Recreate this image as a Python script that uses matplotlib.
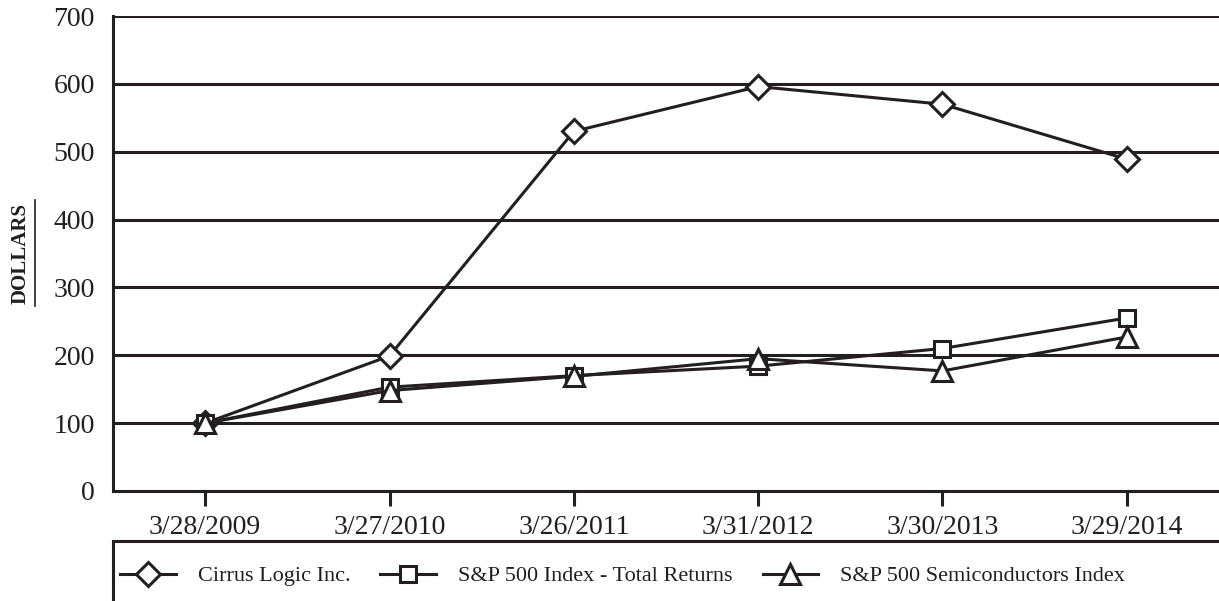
import matplotlib.pyplot as plt
from matplotlib.lines import Line2D
from matplotlib.patches import Rectangle

plt.rcParams['font.family'] = ['Liberation Serif', 'DejaVu Serif']

dates = ['3/28/2009', '3/27/2010', '3/26/2011', '3/31/2012', '3/30/2013', '3/29/2014']
cirrus = [100, 199, 530, 596, 570, 489]
sp500 = [100, 153, 170, 184, 210, 255]
semis = [100, 148, 169, 195, 177, 227]

series = [
    ('Cirrus Logic Inc.', cirrus, 'D', 12),
    ('S&P 500 Index - Total Returns', sp500, 's', 12),
    ('S&P 500 Semiconductors Index', semis, '^', 15),
]

fig = plt.figure(figsize=(12.19, 6.01), dpi=100)
ax = fig.add_axes([113 / 1219, 1 - 491 / 601, 1 - 113 / 1219, (491 - 16) / 601])

x = list(range(len(dates)))
handles = []
for label, vals, mk, ms in series:
    h, = ax.plot(x, vals, color='#231f20', lw=2.2, marker=mk, ms=ms,
                 mfc='white', mec='#231f20', mew=2.2, label=label, zorder=3)
    handles.append(h)

ax.set_xlim(-0.5, 5.5)
ax.set_ylim(0, 700)
ax.set_yticks(range(0, 701, 100))
ax.set_xticks(x)
ax.set_xticklabels(dates)
ax.grid(axis='y', color='#231f20', lw=2.2)
ax.set_axisbelow(True)
for s in ['top', 'right']:
    ax.spines[s].set_visible(False)
for s in ['left', 'bottom']:
    ax.spines[s].set_linewidth(2.2)
    ax.spines[s].set_color('#231f20')
ax.tick_params(axis='y', length=0, pad=13, labelsize=20, labelcolor='#231f20')
ax.tick_params(axis='x', length=11, width=2.2, color='#231f20', pad=6,
               labelsize=20, labelcolor='#231f20')

# y label with underline
fig.text(21 / 1219, 1 - 253 / 601, 'DOLLARS', rotation=90, fontsize=15,
         fontweight='bold', ha='center', va='center', color='#231f20')
fig.add_artist(Line2D([35 / 1219, 35 / 1219], [1 - 200 / 601, 1 - 306 / 601],
                      color='#231f20', lw=1.2, transform=fig.transFigure))

# legend box (right and bottom edges fall outside the figure)
fig.add_artist(Rectangle((113 / 1219, -0.05), 1.0, 0.05 + (601 - 541) / 601,
                         transform=fig.transFigure, fill=False,
                         ec='#231f20', lw=2.2))
fig.legend(handles=handles, loc='center left', ncol=3, frameon=False,
           bbox_to_anchor=(120 / 1219, 1 - 576 / 601), fontsize=16,
           handlelength=2.5, handletextpad=1.0, columnspacing=1.35,
           borderpad=0, borderaxespad=0, labelcolor='#231f20')

fig.savefig('out.png', dpi=100)
